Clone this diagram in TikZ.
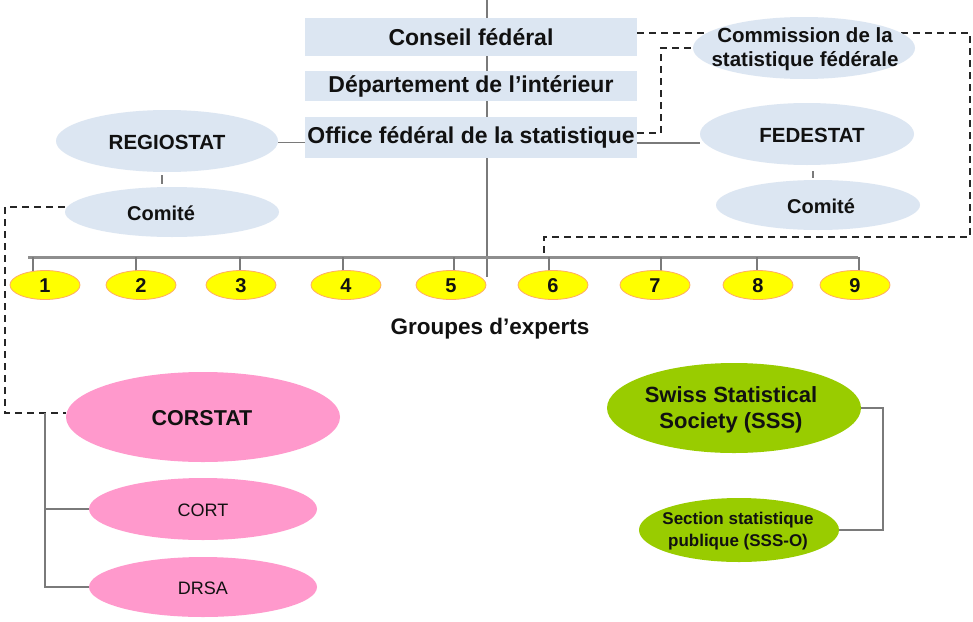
\documentclass[tikz,border=0pt]{standalone}
\usepackage{fontspec}
\setmainfont{Liberation Sans}
\usetikzlibrary{shapes.geometric,backgrounds}
\definecolor{boxblue}{HTML}{DCE6F2}
\definecolor{digfill}{HTML}{FFFF00}
\definecolor{digline}{HTML}{FFAA66}
\definecolor{pinkfill}{HTML}{FF99CC}
\definecolor{greenfill}{HTML}{99CC00}
\definecolor{conncol}{HTML}{7A7A7A}
\definecolor{dashcol}{HTML}{262626}
\definecolor{txt}{HTML}{111111}
\tikzset{
  bluebox/.style={fill=boxblue, inner xsep=0pt, inner ysep=0pt, minimum width=332pt, text=txt,
    font=\bfseries\fontsize{23}{26}\selectfont},
  ell/.style={ellipse, draw=none, inner sep=0pt},
  blueell/.style={ell, fill=boxblue},
  pinkell/.style={ell, fill=pinkfill},
  greenell/.style={ell, fill=greenfill},
  digell/.style={ell, fill=digfill, draw=digline, line width=0.8pt, minimum width=70pt, minimum height=29pt},
  lbl/.style={text=txt, inner sep=0pt, align=center},
  conn/.style={draw=conncol, line width=1.4pt},
  dashconn/.style={draw=dashcol, line width=1.8pt, dash pattern=on 7pt off 5pt},
  barline/.style={draw=conncol!85, line width=3pt},
}
\begin{document}
\begin{tikzpicture}[x=1pt,y=-1pt]
\useasboundingbox (0,0) rectangle (973,621);

% boxes
\node[bluebox, minimum height=38pt] (con) at (471,37) {Conseil fédéral};
\node[bluebox, minimum height=30pt] (dep) at (471,86) {Département de l’intérieur};
\node[bluebox, minimum height=41pt] (off) at (471,137.5) {Office fédéral de la statistique};

% blue ellipses
\node[blueell, minimum width=222pt, minimum height=62pt] (reg) at (167,141) {};
\node[lbl, font=\bfseries\fontsize{20.5}{24}\selectfont] (regt) at (167,142) {REGIOSTAT};
\node[blueell, minimum width=214pt, minimum height=50pt] (coml) at (172,212) {};
\node[lbl, font=\bfseries\fontsize{20}{24}\selectfont] (comlt) at (161,213) {Comité};
\node[blueell, minimum width=222pt, minimum height=62pt] (com) at (804,48) {};
\node[lbl, font=\bfseries\fontsize{20.5}{24}\selectfont] (comt) at (805,49) {Commission de la\\statistique fédérale};
\node[blueell, minimum width=214pt, minimum height=62pt] (fed) at (807,134) {};
\node[lbl, font=\bfseries\fontsize{20.5}{24}\selectfont] (fedt) at (812,135) {FEDESTAT};
\node[blueell, minimum width=204pt, minimum height=50pt] (comr) at (818,205) {};
\node[lbl, font=\bfseries\fontsize{20}{24}\selectfont] (comrt) at (821,206) {Comité};

% expert groups
\foreach \i/\cx in {1/45,2/141,3/241,4/346,5/451,6/553,7/655,8/758,9/855}{
  \node[digell] (d\i) at (\cx,285) {};
  \node[lbl, font=\bfseries\fontsize{20}{24}\selectfont] (d\i t) at (\cx,286) {\i};
}
\node[lbl, font=\bfseries\fontsize{22.5}{26}\selectfont] (grp) at (490,329) {Groupes d’experts};

% CORSTAT group
\node[pinkell, minimum width=274pt, minimum height=90pt] (cor) at (203,417) {};
\node[lbl, font=\bfseries\fontsize{21.5}{25}\selectfont] (cort0) at (202,418) {CORSTAT};
\node[pinkell, minimum width=228pt, minimum height=62pt] (cort) at (203,509) {};
\node[lbl, font=\fontsize{18}{22}\selectfont] (cortt) at (203,510) {CORT};
\node[pinkell, minimum width=228pt, minimum height=60pt] (drsa) at (203,587) {};
\node[lbl, font=\fontsize{18}{22}\selectfont] (drsat) at (203,588) {DRSA};

% SSS group
\node[greenell, minimum width=254pt, minimum height=90pt] (sss) at (734,408) {};
\node[lbl, font=\bfseries\fontsize{22}{26}\selectfont] (ssst) at (731,410) {Swiss Statistical\\Society (SSS)};
\node[greenell, minimum width=200pt, minimum height=64pt] (ssso) at (739,530) {};
\node[lbl, font=\bfseries\fontsize{17}{22}\selectfont] (sssot) at (738,531) {Section statistique\\publique (SSS-O)};

% coordinates
\coordinate (top) at (487,0);
\coordinate (bot) at (487,277);
\coordinate (barL) at (28,257);
\coordinate (barR) at (858,257);
\coordinate (trunk) at (45,413);
\coordinate (sssx) at (883,0);
\coordinate (dend) at (544,253);

\begin{scope}[on background layer]
  \fill[white] (0,0) rectangle (973,621);
  \draw[conn] (top) -- (bot);
  \draw[conn] ([shift={(0,5)}]off.west -| reg.east) -- ([shift={(0,5)}]off.west);
  \draw[conn] ([shift={(0,5.5)}]off.east) -- ([shift={(0,5.5)}]off.east -| fed.west);
  \draw[conn] ([shift={(-5,3)}]reg.south) -- ([shift={(-10,-3)}]coml.north);
  \draw[conn] ([shift={(6,6)}]fed.south) -- ([shift={(-5,-2)}]comr.north);
  \draw[barline] (barL) -- (barR);
  \foreach \i/\tx in {1/33,2/136,3/240,4/343,5/454,6/549,7/661,8/757,9/859}{
    \draw[conn] (\tx,257) -- (\tx,273);
  }
  % dashed links
  \draw[dashconn] ([shift={(0,-4)}]con.east) -- (970,33) -- (970,237) -- (544,237) -- (dend);
  \draw[dashconn] ([shift={(0,-4.5)}]off.east) -- (661,133) -- (661,48) -- (com.west);
  \draw[dashconn] ([shift={(0,-5)}]coml.west) -- (5,207) -- (5,413) -- ([shift={(0,-4)}]cor.west);
  % trees
  \draw[conn] (trunk) |- (cort.west);
  \draw[conn] (trunk) |- (drsa.west);
  \draw[conn] (sss.east) -| (sssx |- ssso.east) -- (ssso.east);
\end{scope}
\end{tikzpicture}
\end{document}
